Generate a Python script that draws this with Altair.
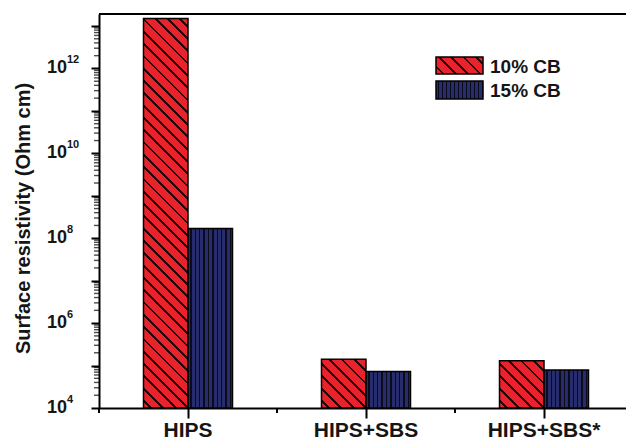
import math

import altair as alt
import pandas as pd

# ---- data -------------------------------------------------------------
categories = ["HIPS", "HIPS+SBS", "HIPS+SBS*"]
series = ["10% CB", "15% CB"]
cb10 = [1.5e13, 1.4e5, 1.3e5]   # surface resistivity, 10% carbon black
cb15 = [1.7e8, 7.2e4, 7.9e4]    # surface resistivity, 15% carbon black
label_exponents = [4, 6, 8, 10, 12]

# ---- layout / style ---------------------------------------------------
PLOT_W, PLOT_H = 527, 394
BAND_RANGE = 534                 # three category steps of 178 px
Y_MIN, Y_MAX = 1e4, 10 ** 13.283
BAR_W = 178 / 4                  # two bars centred in each step
FONT = "Liberation Sans"
INK = "#151515"
RED, RED_LINE = "#e8232b", "#2a0606"
NAVY, NAVY_LINE = "#262c6c", "#0b0b1c"

rows = []
for cat, a, b in zip(categories, cb10, cb15):
    rows.append({"cat": cat, "series": series[0], "value": a})
    rows.append({"cat": cat, "series": series[1], "value": b})
df = pd.DataFrame(rows)

decades = [float(10 ** e) for e in range(4, 14)]
minors = [float(m * 10 ** e) for e in range(4, 14) for m in range(2, 10)
          if m * 10 ** e < Y_MAX]


def bar_height_px(v):
    lo, hi = math.log10(Y_MIN), math.log10(Y_MAX)
    return (math.log10(v) - lo) / (hi - lo) * PLOT_H


def diagonal_hatch(w, h, period=8.7, lw=2.0):
    """45 degree '\\' hatching as a hard-stop linear gradient for a w x h box."""
    span = w + h
    step = period * math.sqrt(2) / span
    thick = lw * math.sqrt(2) / span
    k = (w + h) / (w * w + h * h)
    stops = [{"offset": 0, "color": RED}]
    t = step / 2
    while t < 1:
        e = min(t + thick, 1)
        stops += [
            {"offset": round(t, 5), "color": RED},
            {"offset": round(t, 5), "color": RED_LINE},
            {"offset": round(e, 5), "color": RED_LINE},
            {"offset": round(e, 5), "color": RED},
        ]
        t += step
    stops.append({"offset": 1, "color": RED})
    return {"gradient": "linear", "x1": 0, "y1": 1,
            "x2": k * w, "y2": 1 - k * h, "stops": stops}


def vertical_hatch(w, period=4.4, lw=1.4):
    """Vertical pin stripes as a hard-stop horizontal gradient."""
    step = period / w
    thick = lw / w
    stops = [{"offset": 0, "color": NAVY}]
    t = step / 2
    while t < 1:
        e = min(t + thick, 1)
        stops += [
            {"offset": round(t, 5), "color": NAVY},
            {"offset": round(t, 5), "color": NAVY_LINE},
            {"offset": round(e, 5), "color": NAVY_LINE},
            {"offset": round(e, 5), "color": NAVY},
        ]
        t += step
    stops.append({"offset": 1, "color": NAVY})
    return {"gradient": "linear", "x1": 0, "y1": 0, "x2": 1, "y2": 0,
            "stops": stops}


# ---- shared scales / axes ---------------------------------------------
XSCALE = alt.Scale(domain=categories, range=[0, BAND_RANGE],
                   paddingInner=0, paddingOuter=0)
X_AXIS = alt.Axis(title=None, labelFont=FONT, labelFontSize=21,
                  labelFontWeight="bold", labelColor=INK, labelAngle=0,
                  labelBaseline="top", labelPadding=1, tickSize=10,
                  tickWidth=2, tickColor="black", domainColor="black",
                  domainWidth=2, grid=False)
YSCALE = alt.Scale(type="log", domain=[Y_MIN, Y_MAX], nice=False)
Y_AXIS = alt.Axis(title="Surface resistivity (Ohm cm)", labels=False,
                  values=decades, ticks=True, tickSize=8, tickWidth=2,
                  tickColor="black", grid=False, domainColor="black",
                  domainWidth=2, titleFont=FONT, titleFontSize=20,
                  titleFontWeight="bold", titleColor=INK, titleX=-76,
                  titleY=204, titleAngle=270, titleAlign="center",
                  titleBaseline="middle")
XOFF = alt.XOffset("series:N",
                   scale=alt.Scale(domain=series, paddingInner=0,
                                   paddingOuter=1))


def x_enc(**kw):
    return alt.X("cat:N", scale=XSCALE, axis=X_AXIS, **kw)


def y_enc(field):
    return alt.Y(field, type="quantitative", scale=YSCALE, axis=Y_AXIS)


layers = []

# ---- bars, each with its own hatch fill --------------------------------
for _, r in df.iterrows():
    if r["series"] == series[0]:
        fill = diagonal_hatch(BAR_W, bar_height_px(r["value"]))
    else:
        fill = vertical_hatch(BAR_W)
    test = f"datum.cat === '{r['cat']}' && datum.series === '{r['series']}'"
    layers.append(
        alt.Chart(df).transform_filter(test)
        .mark_bar(fill=fill, stroke="black", strokeWidth=1.5)
        .encode(x=x_enc(), xOffset=XOFF, y=y_enc("value"),
                y2=alt.datum(Y_MIN))
    )

# ---- log minor ticks on the y axis and the 10^n labels ------------------
layers.append(
    alt.Chart(pd.DataFrame({"v": minors}))
    .mark_tick(color="black", thickness=1.4, size=5, orient="horizontal")
    .encode(y=y_enc("v"), x=alt.value(-2.5))
)
lab = pd.DataFrame({"v": [float(10 ** e) for e in label_exponents],
                    "exp": [str(e) for e in label_exponents]})
layers.append(
    alt.Chart(lab).mark_text(font=FONT, fontSize=18, fontWeight="bold",
                             align="left", baseline="middle", color=INK)
    .encode(y=y_enc("v"), x=alt.value(-52), text=alt.value("10"))
)
layers.append(
    alt.Chart(lab).mark_text(font=FONT, fontSize=11, fontWeight="bold",
                             align="left", baseline="middle", dy=-8.5,
                             color=INK)
    .encode(y=y_enc("v"), x=alt.value(-32), text="exp:N")
)

# ---- x axis minor ticks at category boundaries ------------------------
layers.append(
    alt.Chart(pd.DataFrame({"cat": categories}))
    .mark_rule(color="black", strokeWidth=2)
    .encode(x=x_enc(bandPosition=0), y=alt.value(PLOT_H),
            y2=alt.value(PLOT_H + 5))
)

# ---- top frame line ----------------------------------------------------
layers.append(
    alt.Chart(pd.DataFrame({"k": [0]})).mark_rule(color="black", strokeWidth=2)
    .encode(x=alt.value(0), x2=alt.value(PLOT_W), y=alt.value(0))
)

# ---- legend -------------------------------------------------------------
swatch_fills = [diagonal_hatch(47, 17), vertical_hatch(47, period=4.0)]
swatch_y = [(43, 60), (67, 85)]
for name, fill, (y0, y1) in zip(series, swatch_fills, swatch_y):
    layers.append(
        alt.Chart(pd.DataFrame({"k": [0]}))
        .mark_rect(fill=fill, stroke="black", strokeWidth=1.5)
        .encode(x=alt.value(337), x2=alt.value(384),
                y=alt.value(y0), y2=alt.value(y1))
    )
    layers.append(
        alt.Chart(pd.DataFrame({"k": [0]}))
        .mark_text(font=FONT, fontSize=19, fontWeight="bold", align="left",
                   baseline="middle", color=INK)
        .encode(x=alt.value(391), y=alt.value((y0 + y1) / 2 + 1),
                text=alt.value(name))
    )

chart = (
    alt.layer(*layers)
    .properties(width=PLOT_W, height=PLOT_H,
                autosize=alt.AutoSizeParams(type="none"),
                padding={"left": 99, "top": 14, "right": 0, "bottom": 31},
                background="white")
    .configure_view(stroke=None)
)

chart.save("out.html", embed_options={"renderer": "svg", "actions": False})
